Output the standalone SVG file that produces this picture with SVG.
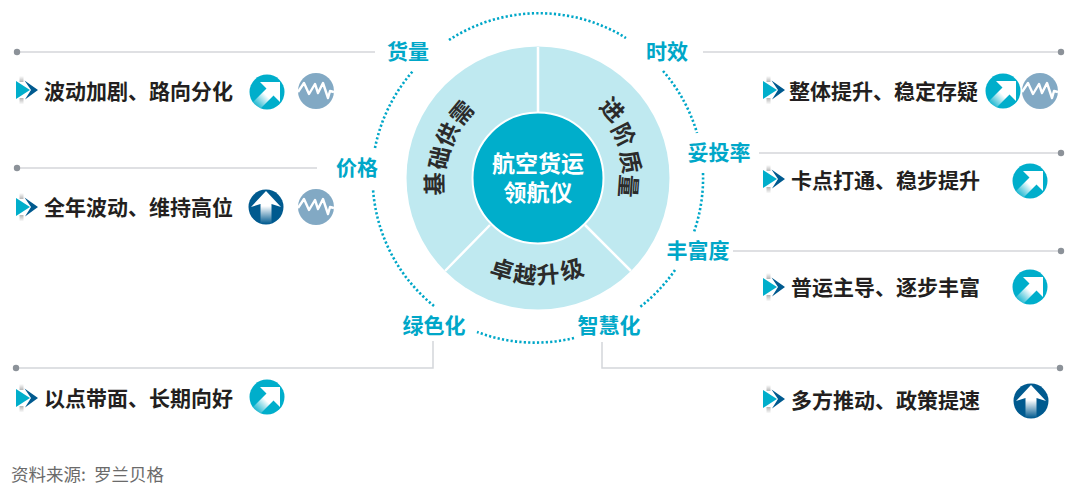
<svg xmlns="http://www.w3.org/2000/svg" width="1080" height="489" viewBox="0 0 1080 489">
<style>
text{font-family:"Noto Sans CJK SC","Noto Sans",sans-serif}
.row{font-size:21px;font-weight:700;fill:#231f20}
.lab{font-size:21px;font-weight:700;fill:#00a7c8;text-anchor:middle}
.ctr{font-size:23px;font-weight:700;fill:#fff;text-anchor:middle}
.arc{font-size:23px;font-weight:700;fill:#2b2b2b;text-anchor:middle}
.ln{fill:none;stroke:#d4d6da;stroke-width:1.5}
.dot{fill:#8c9299}
.dots{fill:none;stroke:#00a7c8;stroke-width:2.6;stroke-dasharray:2.2 2.2}
.sep{fill:none;stroke:#fff;stroke-width:2.5}
</style>
<defs>
<linearGradient id="gNE" x1="-11" y1="14" x2="3" y2="0" gradientUnits="userSpaceOnUse"><stop offset="0" stop-color="#fff" stop-opacity="0.1"/><stop offset="0.75" stop-color="#fff"/></linearGradient>
<linearGradient id="gN" x1="0" y1="17" x2="0" y2="-3" gradientUnits="userSpaceOnUse"><stop offset="0" stop-color="#fff" stop-opacity="0"/><stop offset="0.9" stop-color="#fff"/></linearGradient>
<linearGradient id="gT" x1="0" y1="0" x2="0" y2="1"><stop offset="0" stop-color="#fff"/><stop offset="1" stop-color="#b5b5b5"/></linearGradient>
<linearGradient id="gB" x1="0" y1="0" x2="0" y2="1"><stop offset="0" stop-color="#b5b5b5"/><stop offset="1" stop-color="#fff"/></linearGradient>
<g id="chev">
<rect x="3.5" y="-14" width="4" height="6" fill="url(#gT)"/>
<rect x="3.5" y="8" width="4" height="6.5" fill="url(#gB)"/>
<path d="M0,-9 L14,0 L0,9Z" fill="#00aecb"/>
<path d="M8.5,-9.5 L22,0 L9,9.5 L15,0Z" fill="#005a8f"/>
</g>
<g id="ne">
<circle r="17.5" fill="#00aecb"/>
<path d="M13,-10 L13,10 L6.5,3.5 L-7.5,17.5 L-14.5,10.5 L-0.5,-3.5 L-7,-10Z" fill="url(#gNE)"/>
</g>
<g id="up">
<circle r="17.5" fill="#005a8f"/>
<path d="M0,-16 L15,0 L5.5,-3 L5.5,17 L-5.5,17 L-5.5,-3 L-15,0Z" fill="url(#gN)"/>
</g>
<g id="wave">
<circle r="18" fill="#82a9c4"/>
<path d="M-18,1 L-12,-8 L-7,3 L-1,-7 L2,2 L7,-8 L12,7 L14,0 L18,1" fill="none" stroke="#fff" stroke-width="2.4" stroke-linejoin="round"/>
</g>
</defs>
<rect width="1080" height="489" fill="#fff"/>
<g id="connectors">
<path class="ln" d="M17,52H375"/><circle class="dot" cx="17" cy="52" r="3.2"/>
<path class="ln" d="M17,168H317"/><circle class="dot" cx="17" cy="168" r="3.2"/>
<path class="ln" d="M433,341V368H16"/><circle class="dot" cx="16" cy="368" r="3.2"/>
<path class="ln" d="M703,52H1061"/><circle class="dot" cx="1061" cy="52" r="3.2"/>
<path class="ln" d="M759,153H1061"/><circle class="dot" cx="1061" cy="153" r="3.2"/>
<path class="ln" d="M733,251H1061"/><circle class="dot" cx="1061" cy="251" r="3.2"/>
<path class="ln" d="M602,342V368H1060"/><circle class="dot" cx="1060" cy="368" r="3.2"/>
<g id="dotted-ring">
<path class="dots" d="M449,40A165,165 0 0 1 626,38"/>
<path class="dots" d="M663,71A165,165 0 0 1 697,133"/>
<path class="dots" d="M703,173A165,165 0 0 1 694,232"/>
<path class="dots" d="M675,270A165,165 0 0 1 640,307"/>
<path class="dots" d="M574,338A165,165 0 0 1 477,332"/>
<path class="dots" d="M434,306A165,165 0 0 1 373,189"/>
<path class="dots" d="M375,148A165,165 0 0 1 413,71"/>
</g>
</g>
<g id="hub">
<circle cx="538" cy="178" r="131.5" fill="#bfe9f0"/>
<path class="sep" d="M538,47V113M585,225L631,271M490,225L445,271"/>
<circle cx="538" cy="178" r="65.5" fill="#00aecb" stroke="#fff" stroke-width="2"/>
<text class="ctr" x="538" y="172">航空货运</text>
<text class="ctr" x="538" y="201">领航仪</text>
<g id="seg-basic">
<text class="arc" transform="translate(435,184) rotate(-91)" y="8">基</text>
<text class="arc" transform="translate(440,158) rotate(-78)" y="8">础</text>
<text class="arc" transform="translate(448,135) rotate(-64)" y="8">供</text>
<text class="arc" transform="translate(462,113) rotate(-50)" y="8">需</text>
</g>
<g id="seg-adv">
<text class="arc" transform="translate(612,110) rotate(47)" y="8">进</text>
<text class="arc" transform="translate(623,135) rotate(63)" y="8">阶</text>
<text class="arc" transform="translate(630,162) rotate(80)" y="8">质</text>
<text class="arc" transform="translate(628,186) rotate(94)" y="8">量</text>
</g>
<g id="seg-top">
<text class="arc" transform="translate(502,270) rotate(17)" y="8">卓</text>
<text class="arc" transform="translate(525,275) rotate(7)" y="8">越</text>
<text class="arc" transform="translate(548,275) rotate(-5)" y="8">升</text>
<text class="arc" transform="translate(572,270) rotate(-16)" y="8">级</text>
</g>
</g>
<g id="label-huoliang"><text class="lab" x="408" y="59">货量</text></g>
<g id="label-shixiao"><text class="lab" x="667" y="59">时效</text></g>
<g id="label-jiage"><text class="lab" x="357" y="175">价格</text></g>
<g id="label-tuotou"><text class="lab" x="719" y="160">妥投率</text></g>
<g id="label-fengfu"><text class="lab" x="698" y="258">丰富度</text></g>
<g id="label-lvse"><text class="lab" x="434" y="333">绿色化</text></g>
<g id="label-zhihui"><text class="lab" x="609" y="333">智慧化</text></g>
<g id="row-l1"><use href="#chev" x="16" y="90"/><text class="row" x="44" y="99">波动加剧、路向分化</text><use href="#ne" x="267" y="92"/><use href="#wave" x="316" y="91"/></g>
<g id="row-l2"><use href="#chev" x="16" y="207"/><text class="row" x="44" y="215">全年波动、维持高位</text><use href="#up" x="266" y="207"/><use href="#wave" x="316" y="207"/></g>
<g id="row-l3"><use href="#chev" x="16" y="398"/><text class="row" x="44" y="406">以点带面、长期向好</text><use href="#ne" x="267" y="397"/></g>
<g id="row-r1"><use href="#chev" x="763" y="90"/><text class="row" x="789" y="99">整体提升、稳定存疑</text><use href="#ne" x="1003" y="91"/><use href="#wave" x="1040" y="91"/></g>
<g id="row-r2"><use href="#chev" x="763" y="179"/><text class="row" x="791" y="188">卡点打通、稳步提升</text><use href="#ne" x="1030" y="181"/></g>
<g id="row-r3"><use href="#chev" x="763" y="287"/><text class="row" x="791" y="295">普运主导、逐步丰富</text><use href="#ne" x="1030" y="287"/></g>
<g id="row-r4"><use href="#chev" x="763" y="399"/><text class="row" x="791" y="408">多方推动、政策提速</text><use href="#up" x="1031" y="401"/></g>
<text x="11" y="481" font-size="17.5" fill="#6a6a6a">资料来源: <tspan x="94">罗兰贝格</tspan></text>
</svg>
